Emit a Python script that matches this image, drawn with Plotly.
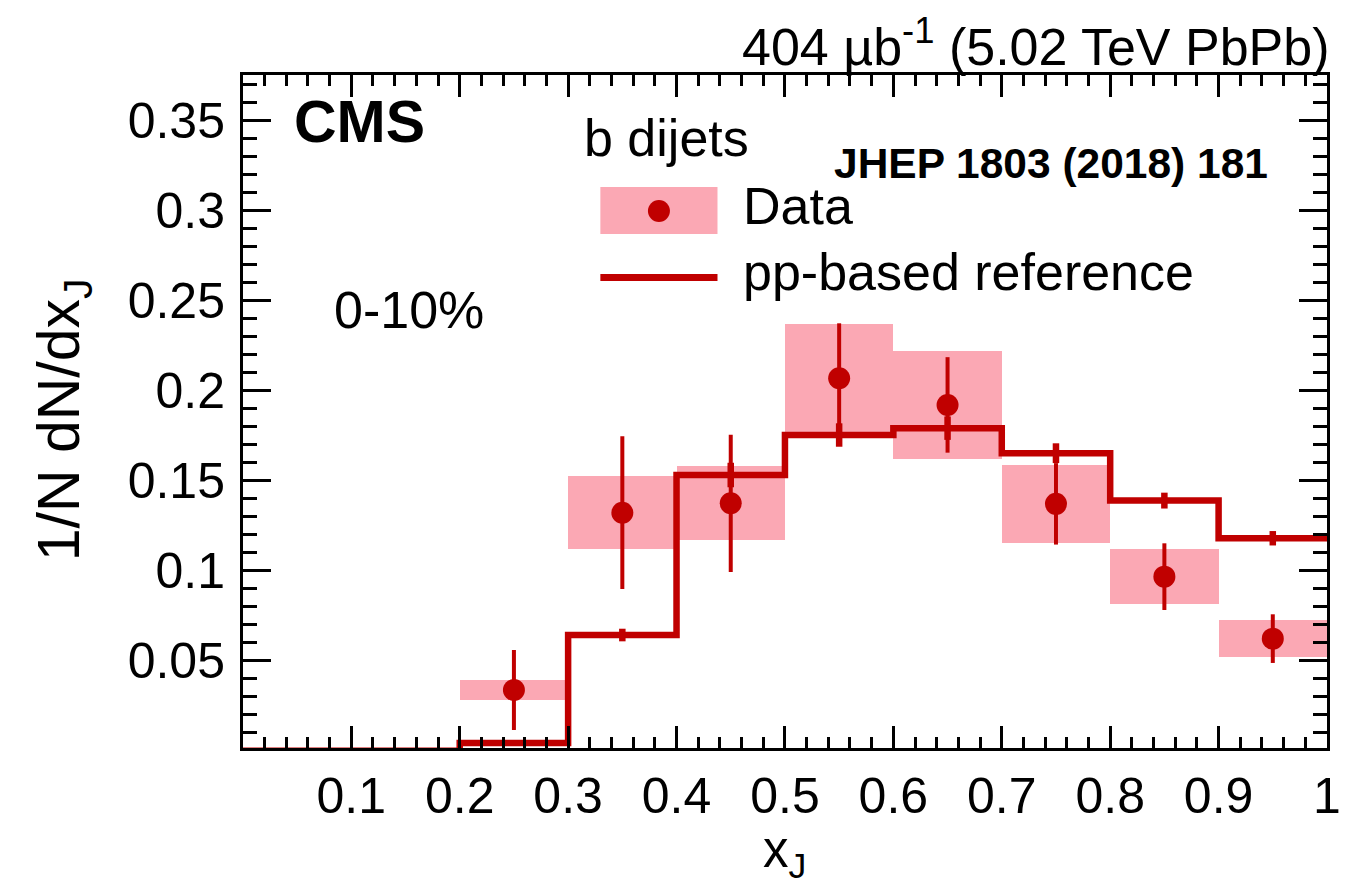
import plotly.graph_objects as go

# ---------------- data ----------------
bin_lo = [0.0, 0.1, 0.2, 0.3, 0.4, 0.5, 0.6, 0.7, 0.8, 0.9]
bin_hi_last = 1.0
ref_vals = [0.0, 0.0, 0.0043, 0.0642, 0.1530, 0.1752, 0.1790, 0.1651, 0.1388, 0.1179]
ref_err = [0.0, 0.0, 0.0008, 0.0035, 0.0068, 0.0065, 0.0065, 0.0055, 0.0044, 0.0040]

data_x = [0.25, 0.35, 0.45, 0.55, 0.65, 0.75, 0.85, 0.95]
data_y = [0.0337, 0.1321, 0.1373, 0.2067, 0.1919, 0.1370, 0.0966, 0.0622]
data_stat = [0.0222, 0.0424, 0.0381, 0.0305, 0.0265, 0.0226, 0.0185, 0.0135]
data_sys = [0.0054, 0.0201, 0.0205, 0.0303, 0.0300, 0.0216, 0.0154, 0.0101]
bin_width = 0.1

RED = "#c00000"
PINK = "#fba8b4"
FONT = "Liberation Sans, Arial, Helvetica, sans-serif"

W, H = 1353, 888
L, R, T, B = 243, 1335, 75, 748


def px(x):
    return (x - L) / (R - L)


def py(y):
    return (B - y) / (B - T)


fig = go.Figure()

# systematic boxes
fig.add_trace(go.Bar(
    x=data_x, y=[2 * s for s in data_sys], base=[v - s for v, s in zip(data_y, data_sys)],
    width=bin_width, marker=dict(color=PINK, line=dict(width=0)),
    showlegend=False, hoverinfo="skip"))

# pp-based reference histogram (step)
ref_x = bin_lo + [bin_hi_last]
ref_y = ref_vals + [ref_vals[-1]]
fig.add_trace(go.Scatter(
    x=ref_x, y=ref_y, mode="lines", line=dict(color=RED, width=6.5, shape="hv"),
    showlegend=False, hoverinfo="skip"))

# reference uncertainties at bin centres
ref_cx = [lo + bin_width / 2 for lo in bin_lo]
mask = [e > 0 for e in ref_err]
fig.add_trace(go.Scatter(
    x=[c for c, m in zip(ref_cx, mask) if m], y=[v for v, m in zip(ref_vals, mask) if m],
    mode="markers", marker=dict(size=1, color=RED, opacity=0),
    error_y=dict(type="data", array=[e for e, m in zip(ref_err, mask) if m],
                 color=RED, thickness=6.5, width=0),
    showlegend=False, hoverinfo="skip"))

# data points
fig.add_trace(go.Scatter(
    x=data_x, y=data_y, mode="markers",
    marker=dict(size=22, color=RED, symbol="circle"),
    error_y=dict(type="data", array=data_stat, color=RED, thickness=4, width=0),
    showlegend=False))

axis_common = dict(
    showline=True, linecolor="black", linewidth=3, mirror="allticks",
    ticks="inside", tickcolor="black", tickwidth=3,
    showgrid=False, zeroline=False,
    tickfont=dict(family=FONT, size=50, color="black"),
)

fig.update_xaxes(
    range=[0.0001, 1.0], tick0=0, dtick=0.1, tickformat=".1~f", ticklen=22,
    minor=dict(dtick=0.02, tick0=0, ticklen=11, ticks="inside", tickcolor="black", tickwidth=3),
    ticklabelstandoff=2,
    **axis_common)
fig.update_yaxes(
    range=[0.0015, 0.375], tick0=0, dtick=0.05, tickformat=".2~f", ticklen=28,
    minor=dict(dtick=0.01, tick0=0, ticklen=14, ticks="inside", tickcolor="black", tickwidth=3),
    ticklabelstandoff=5,
    **axis_common)

annotations = [
    dict(text="404 µb<sup>-1</sup> (5.02 TeV PbPb)", x=px(1340), y=py(43), xanchor="right", yanchor="middle",
         font=dict(size=52)),
    dict(text="<b>CMS</b>", x=px(292), y=py(122), xanchor="left", yanchor="middle", font=dict(size=59)),
    dict(text="b dijets", x=px(584), y=py(138), xanchor="left", yanchor="middle", font=dict(size=52)),
    dict(text="<b>JHEP 1803 (2018) 181</b>", x=px(836), y=py(163), xanchor="left", yanchor="middle",
         font=dict(size=42.5)),
    dict(text="Data", x=px(745), y=py(206), xanchor="left", yanchor="middle", font=dict(size=52)),
    dict(text="pp-based reference", x=px(745), y=py(272), xanchor="left", yanchor="middle",
         font=dict(size=52)),
    dict(text="0-10%", x=px(333), y=py(310), xanchor="left", yanchor="middle", font=dict(size=52)),
    dict(text="1/N dN/dx<sub>J</sub>", x=px(62), y=py(420), xanchor="center", yanchor="middle",
         textangle=-90, font=dict(size=59)),
    dict(text="x<sub>J</sub>", x=px(788), y=py(854), xanchor="center", yanchor="middle",
         font=dict(size=51)),
]
for a in annotations:
    a.update(xref="paper", yref="paper", showarrow=False)
    a["font"].update(family=FONT, color="black")

shapes = [
    dict(type="rect", xref="paper", yref="paper", x0=px(603), x1=px(721), y0=py(234), y1=py(187),
         fillcolor=PINK, line=dict(width=0), layer="above"),
    dict(type="circle", xref="paper", yref="paper", xsizemode="pixel", ysizemode="pixel",
         xanchor=px(662), yanchor=py(211), x0=-11, x1=11, y0=-11, y1=11,
         fillcolor=RED, line=dict(width=0), layer="above"),
    dict(type="line", xref="paper", yref="paper", x0=px(603), x1=px(721), y0=py(277.5), y1=py(277.5),
         line=dict(color=RED, width=7), layer="above"),
]

fig.update_layout(
    width=W, height=H,
    margin=dict(l=L, r=W - R, t=T, b=H - B, pad=0),
    paper_bgcolor="white", plot_bgcolor="white",
    barmode="overlay", bargap=0,
    showlegend=False,
    annotations=annotations, shapes=shapes,
    font=dict(family=FONT, color="black"),
)

fig.write_html("out.html")
